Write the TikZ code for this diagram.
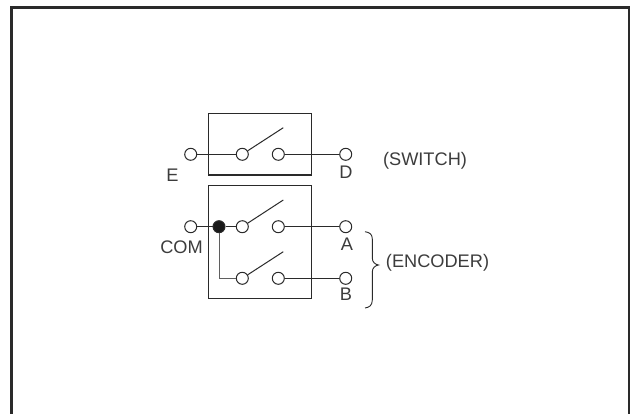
\documentclass[tikz,border=0pt]{standalone}
\usepackage{fontspec}
\setmainfont{Liberation Sans}
\usetikzlibrary{calc}
\definecolor{ln}{HTML}{2A2A2A}
\definecolor{tx}{HTML}{3C3C3C}
\tikzset{
  x=1pt,y=-1pt,
  term/.style={circle,draw=ln,fill=white,line width=1pt,minimum size=12pt,inner sep=0pt},
  dotn/.style={circle,draw=ln,fill=black!90,line width=1pt,minimum size=12pt,inner sep=0pt},
  wire/.style={draw=ln,line width=1pt},
  boxn/.style={draw=ln,line width=1.2pt,fill=white,inner sep=0pt},
  lab/.style={text=tx,font=\fontsize{18.2pt}{20pt}\selectfont,inner sep=0pt},
}
\begin{document}
\begin{tikzpicture}
\useasboundingbox (0,0) rectangle (631,414);
\draw[ln,line width=2.4pt] (11.5,414) -- (11.5,7.5) -- (629,7.5) -- (629,414);
% boxes
\node[boxn,minimum width=103.4pt,minimum height=61.7pt] (box1) at (260,144.2) {};
\node[boxn,minimum width=103.4pt,minimum height=113.4pt] (box2) at (260,242) {};
% switch row
\coordinate (a1) at (283.3,127.7);
\coordinate (a2) at (283.3,200);
\coordinate (a3) at (283.3,251.7);
\node[term] (E) at (190.7,154.3) {};
\node[term] (S1) at (242.3,154.3) {};
\node[term] (S2) at (278.3,154.3) {};
\node[term] (D) at (345.7,154.3) {};
\node[term] (COM) at (190.7,226.7) {};
\node[dotn] (J) at (219,226.7) {};
\node[term] (S3) at (242.3,226.7) {};
\node[term] (S4) at (278.3,226.7) {};
\node[term] (A) at (345.7,226.7) {};
\node[term] (S5) at (242.3,278.3) {};
\node[term] (S6) at (278.3,278.3) {};
\node[term] (B) at (345.7,278.3) {};
\draw[wire] (E) -- (S1);
\draw[wire] (S2) -- (D);
\draw[wire] (COM) -- (J);
\draw[wire] (J) -- (S3);
\draw[wire] (S4) -- (A);
\draw[wire] (S6) -- (B);
\draw[wire,draw=ln!75] (J) |- (S5);
\draw[wire] (S1) -- (a1);
\draw[wire] (S3) -- (a2);
\draw[wire] (S5) -- (a3);
% brace
\coordinate (bt) at (365,231.7);
\coordinate (bb) at (365,308);
\coordinate (bm) at (378.5,265);
\draw[wire,line width=.9pt] (bt) .. controls (369,232.5) and (372.3,233.5) .. (372.3,239)
  -- (372.3,258) .. controls (372.3,262) and (375,264.5) .. (bm)
  .. controls (375,265.5) and (372.3,268) .. (372.3,272)
  -- (372.3,300) .. controls (372.3,305.5) and (369,307.5) .. (bb);
% labels
\node[lab] (lE) at (172.5,175.5) {E};
\node[lab] (lD) at (346,172) {D};
\node[lab] (lC) at (181.5,247) {COM};
\node[lab] (lA) at (347,244) {A};
\node[lab] (lB) at (346,294) {B};
\node[lab] (lS) at (425,160.8) {(SWITCH)};
\node[lab] (lN) at (437.5,262.5) {(ENCODER)};
\end{tikzpicture}
\end{document}
